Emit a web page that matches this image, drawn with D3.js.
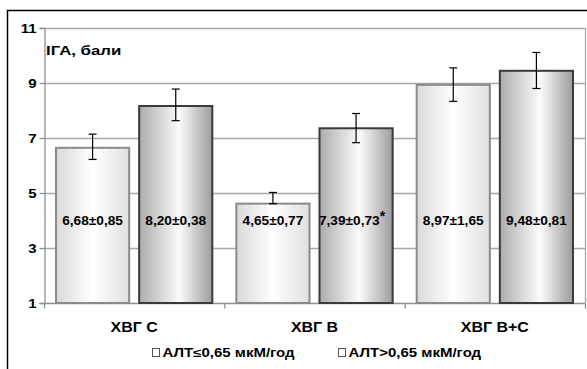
<!DOCTYPE html>
<html>
<head>
<meta charset="utf-8">
<script src="https://cdn.jsdelivr.net/npm/d3@7"></script>
<style>
  body { margin: 0; background: #fff; }
  text { font-family: "Liberation Sans", Arial, sans-serif; font-weight: bold; }
</style>
</head>
<body>
<script>
// data
const categories = ["ХВГ С", "ХВГ В", "ХВГ В+С"];
const seriesNames = ["АЛТ≤0,65 мкМ/год", "АЛТ>0,65 мкМ/год"];
const lowAlt = [6.68, 4.65, 8.97];
const highAlt = [8.20, 7.39, 9.48];
const lowLabels = ["6,68±0,85", "4,65±0,77", "8,97±1,65"];
const highLabels = ["8,20±0,38", "7,39±0,73", "9,48±0,81"];
const highMarks = ["", "*", ""];
// drawn error bars (do not match the printed ± values)
const lowErrUp = [0.46, 0.37, 0.58];
const lowErrDown = [0.46, 0.04, 0.64];
const highErrUp = [0.58, 0.50, 0.63];
const highErrDown = [0.57, 0.56, 0.68];
const yTicks = [1, 3, 5, 7, 9, 11];

const width = 587, height = 369;
const plot = { left: 44, right: 585, top: 28, bottom: 303 };

const svg = d3.select("body").append("svg")
  .attr("width", width)
  .attr("height", height);

// the source picture is stretched sideways, so widen the glyphs to match
function stretch(sel, sx) {
  sel.each(function () {
    const w = this.getComputedTextLength();
    d3.select(this).attr("textLength", w * sx).attr("lengthAdjust", "spacingAndGlyphs");
  });
}

const defs = svg.append("defs");

function gradient(id, stops) {
  const g = defs.append("linearGradient").attr("id", id)
    .attr("x1", "0%").attr("x2", "100%").attr("y1", "0%").attr("y2", "0%");
  g.selectAll("stop").data(stops).join("stop")
    .attr("offset", d => d[0])
    .attr("stop-color", d => d[1]);
}
gradient("g-low", [["0%", "#d9d9d9"], ["50%", "#ffffff"], ["100%", "#e0e0e0"]]);
gradient("g-high", [["0%", "#acacac"], ["55%", "#fbfbfb"], ["100%", "#9c9c9c"]]);

// outer frame
svg.append("rect")
  .attr("x", 7.5).attr("y", 10.5)
  .attr("width", 600).attr("height", 400)
  .attr("fill", "none").attr("stroke", "#000").attr("stroke-width", 1.5);

const y = d3.scaleLinear().domain([1, 11]).range([plot.bottom, plot.top]);
const x = d3.scaleBand().domain(categories).range([plot.left, plot.right]).padding(0);
const xs = d3.scaleBand().domain([0, 1]).range([0, x.bandwidth()])
  .paddingInner(0.096).paddingOuter(0.1325);

// gridlines
svg.append("g")
  .selectAll("line")
  .data(yTicks.filter(t => t > 1))
  .join("line")
  .attr("x1", plot.left).attr("x2", plot.right)
  .attr("y1", d => y(d) + 0.5).attr("y2", d => y(d) + 0.5)
  .attr("stroke", "#a8a8a8").attr("stroke-width", 1.3);

// plot area right border
svg.append("line")
  .attr("x1", plot.right + 0.5).attr("x2", plot.right + 0.5)
  .attr("y1", plot.top).attr("y2", plot.bottom)
  .attr("stroke", "#a8a8a8").attr("stroke-width", 1.3);

// y axis
const yAxis = svg.append("g")
  .attr("transform", `translate(${plot.left + 0.5},0)`)
  .call(d3.axisLeft(y).tickValues(yTicks).tickSize(5).tickPadding(3));
yAxis.select(".domain").attr("stroke", "#909090").attr("stroke-width", 1.3);
yAxis.selectAll(".tick line").attr("stroke", "#909090").attr("stroke-width", 1.3);
yAxis.selectAll(".tick text")
  .attr("font-size", 12.5).attr("fill", "#000")
  .attr("font-family", "'Liberation Sans', Arial, sans-serif")
  .attr("font-weight", "bold")
  .call(stretch, 1.2);

// x axis
const xAxis = svg.append("g")
  .attr("transform", `translate(0,${plot.bottom + 0.5})`);
xAxis.append("line")
  .attr("x1", plot.left).attr("x2", plot.right)
  .attr("stroke", "#909090").attr("stroke-width", 1.3);
xAxis.selectAll("line.tk")
  .data(categories.map(c => x(c)).concat([plot.right]))
  .join("line").attr("class", "tk")
  .attr("x1", d => d + 0.5).attr("x2", d => d + 0.5)
  .attr("y1", 0).attr("y2", 5)
  .attr("stroke", "#909090").attr("stroke-width", 1.3);
xAxis.selectAll("text")
  .data(categories)
  .join("text")
  .attr("x", d => x(d) + x.bandwidth() / 2)
  .attr("y", 28)
  .attr("text-anchor", "middle")
  .attr("font-size", 14)
  .text(d => d)
  .call(stretch, 1.14);

// bars
const series = [
  { vals: lowAlt, labels: lowLabels, marks: ["", "", ""], up: lowErrUp, down: lowErrDown,
    fill: "url(#g-low)", stroke: "#8a8a8a" },
  { vals: highAlt, labels: highLabels, marks: highMarks, up: highErrUp, down: highErrDown,
    fill: "url(#g-high)", stroke: "#3a3a3a" }
];

series.forEach((s, si) => {
  const g = svg.append("g");
  const rows = categories.map((c, i) => ({ c, v: s.vals[i], label: s.labels[i], mark: s.marks[i],
    up: s.up[i], down: s.down[i] }));

  g.selectAll("rect")
    .data(rows)
    .join("rect")
    .attr("x", d => x(d.c) + xs(si) + 1)
    .attr("y", d => y(d.v) + 1)
    .attr("width", xs.bandwidth() - 2)
    .attr("height", d => y(1) - y(d.v) - 1)
    .attr("fill", s.fill)
    .attr("stroke", s.stroke)
    .attr("stroke-width", 2);

  // error bars
  const eb = g.selectAll("g.err").data(rows).join("g").attr("class", "err")
    .attr("transform", d => `translate(${x(d.c) + xs(si) + xs.bandwidth() / 2},0)`);
  eb.append("line")
    .attr("y1", d => y(d.v + d.up)).attr("y2", d => y(d.v - d.down))
    .attr("stroke", "#000").attr("stroke-width", 1.2);
  eb.append("line")
    .attr("x1", -4).attr("x2", 4)
    .attr("y1", d => y(d.v + d.up)).attr("y2", d => y(d.v + d.up))
    .attr("stroke", "#000").attr("stroke-width", 1.2);
  eb.append("line")
    .attr("x1", -4).attr("x2", 4)
    .attr("y1", d => y(d.v - d.down)).attr("y2", d => y(d.v - d.down))
    .attr("stroke", "#000").attr("stroke-width", 1.2);

  // value labels
  const t = g.selectAll("text.val").data(rows).join("text").attr("class", "val")
    .attr("x", d => x(d.c) + xs(si) + xs.bandwidth() / 2 - (d.mark ? 4 : 0))
    .attr("y", y(4) + 4.5)
    .attr("text-anchor", "middle")
    .attr("font-size", 12);
  t.append("tspan").attr("class", "main").text(d => d.label);
  t.filter(d => d.mark).append("tspan")
    .attr("dy", -4).attr("font-size", 14).text(d => d.mark);
  stretch(t.selectAll("tspan.main"), 1.14);
});

// y axis title
svg.append("text")
  .attr("x", 46).attr("y", 55)
  .attr("font-size", 12)
  .text("ІГА, бали")
  .call(stretch, 1.4);

// legend
const legendX = [152, 338];
const legend = svg.append("g")
  .selectAll("g")
  .data(seriesNames)
  .join("g")
  .attr("transform", (d, i) => `translate(${legendX[i]},352)`);
legend.append("rect")
  .attr("x", 0.5).attr("y", -3.5)
  .attr("width", 7).attr("height", 8)
  .attr("fill", "#fff").attr("stroke", "#555").attr("stroke-width", 1);
legend.append("text")
  .attr("x", 10.5).attr("y", 4.5)
  .attr("font-size", 12)
  .text(d => d)
  .call(stretch, 1.25);
</script>
</body>
</html>
